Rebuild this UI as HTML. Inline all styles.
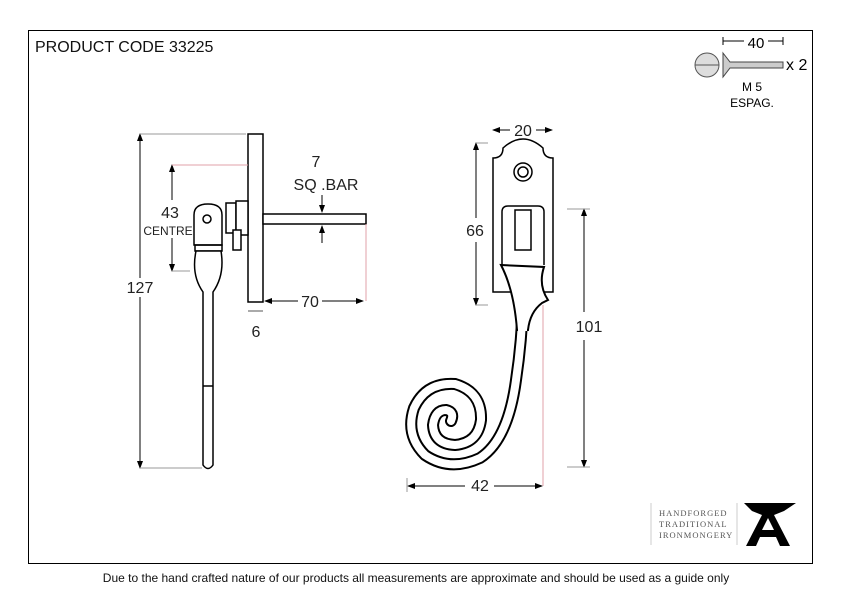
<!DOCTYPE html>
<html><head><meta charset="utf-8"><style>
html,body{margin:0;padding:0;background:#fff;}
svg{display:block;font-family:"Liberation Sans",sans-serif;}
</style></head><body>
<svg width="842" height="596" viewBox="0 0 842 596" xmlns="http://www.w3.org/2000/svg">
<defs>
<marker id="a" markerWidth="8" markerHeight="6" refX="7" refY="3" orient="auto-start-reverse" markerUnits="userSpaceOnUse"><path d="M0,0 L8,3 L0,6z" fill="#000"/></marker>
</defs>
<rect x="28.5" y="30.5" width="784" height="533" fill="none" stroke="#000" stroke-width="1"/>
<text x="35" y="52" font-size="16" fill="#111">PRODUCT CODE 33225</text>

<!-- screw -->
<circle cx="707" cy="65" r="12" fill="#ddd" stroke="#555"/>
<line x1="695" y1="65" x2="719" y2="65" stroke="#555"/>
<path d="M723,53 L730,62 L783,62 L783,68 L730,68 L723,77Z" fill="#ccc" stroke="#444"/>
<line x1="723" y1="41" x2="783" y2="41" stroke="#000"/>
<line x1="723" y1="37" x2="723" y2="45" stroke="#000"/><line x1="783" y1="37" x2="783" y2="45" stroke="#000"/>
<rect x="744" y="34" width="24" height="14" fill="#fff"/>
<text x="756" y="48" font-size="15" text-anchor="middle">40</text>
<text x="786" y="70" font-size="16">x 2</text>
<text x="752" y="91" font-size="12" text-anchor="middle">M 5</text>
<text x="752" y="107" font-size="12" text-anchor="middle">ESPAG.</text>

<g stroke="#000" fill="none" stroke-width="1.5">
<!-- left view -->
<rect x="248" y="134" width="15" height="168" fill="#fff"/>
<rect x="263" y="214" width="103" height="10" fill="#fff"/>
<rect x="226" y="203" width="10" height="30" fill="#fff"/>
<rect x="236" y="201" width="12" height="34" fill="#fff"/>
<rect x="233" y="230" width="8" height="20" fill="#fff"/>
<path d="M194,245 L194,215 Q194,204 208,204 Q222,204 222,215 L222,245Z" fill="#fff"/>
<circle cx="207" cy="219" r="4"/>
<rect x="195" y="245" width="27" height="6"/>
<path d="M196,251 Q191,275 203,292 L203,465 Q208,472 213,465 L213,292 Q225,275 221,251Z" fill="#fff"/>
<line x1="203" y1="386" x2="213" y2="386"/>
<!-- right view -->
<path d="M493,292 L493,158 Q503,158 503,148 Q513,139 523,139 Q533,139 543,148 Q543,158 553,158 L553,292Z" fill="#fff"/>
<circle cx="523" cy="172" r="9"/><circle cx="523" cy="172" r="5"/>
<path d="M502,265 L502,212 Q502,206 508,206 L538,206 Q544,206 544,212 L544,265" />
<rect x="515" y="210" width="16" height="40"/>
</g>
<!-- spiral ribbon -->
<path d="M523,300 Q522,340 516,380 Q508,440 480,458 Q450,472 425,455 Q405,435 414,408 Q426,382 455,384 Q482,392 481,420 Q478,443 455,445 Q434,444 433,425 Q435,410 446,410 Q455,412 451,421" fill="none" stroke="#000" stroke-width="12" stroke-linecap="round"/>
<path d="M523,300 Q522,340 516,380 Q508,440 480,458 Q450,472 425,455 Q405,435 414,408 Q426,382 455,384 Q482,392 481,420 Q478,443 455,445 Q434,444 433,425 Q435,410 446,410 Q455,412 451,421" fill="none" stroke="#fff" stroke-width="8" stroke-linecap="round"/>
<path d="M501,265 L544,267 Q538,285 548,300 L542,303 Q530,312 528,330 L517,330 Q514,290 501,265Z" fill="#fff" stroke="#000" stroke-width="2"/>
<path d="M518,329 L527,329" stroke="#fff" stroke-width="4"/>

<!-- dimension lines -->
<g stroke="#000" stroke-width="1">
<line x1="140" y1="134" x2="140" y2="278" marker-start="url(#a)"/>
<line x1="140" y1="297" x2="140" y2="468" marker-end="url(#a)"/>
<line x1="140" y1="134" x2="246" y2="134" stroke="#999"/>
<line x1="140" y1="468" x2="202" y2="468" stroke="#999"/>
<line x1="172" y1="165" x2="172" y2="200" marker-start="url(#a)"/>
<line x1="172" y1="238" x2="172" y2="271" marker-end="url(#a)"/>
<line x1="172" y1="271" x2="190" y2="271" stroke="#999"/>
<line x1="265" y1="301" x2="298" y2="301" marker-start="url(#a)"/>
<line x1="322" y1="301" x2="363" y2="301" marker-end="url(#a)"/>
<line x1="248" y1="311" x2="263" y2="311" stroke="#555"/>
<line x1="322" y1="195" x2="322" y2="212" marker-end="url(#a)"/>
<line x1="322" y1="243" x2="322" y2="226" marker-end="url(#a)"/>
<line x1="493" y1="130" x2="510" y2="130" marker-start="url(#a)"/>
<line x1="536" y1="130" x2="552" y2="130" marker-end="url(#a)"/>
<line x1="476" y1="143" x2="476" y2="218" marker-start="url(#a)"/>
<line x1="476" y1="242" x2="476" y2="305" marker-end="url(#a)"/>
<line x1="476" y1="143" x2="488" y2="143" stroke="#999"/>
<line x1="476" y1="305" x2="488" y2="305" stroke="#999"/>
<line x1="584" y1="209" x2="584" y2="312" marker-start="url(#a)"/>
<line x1="584" y1="340" x2="584" y2="467" marker-end="url(#a)"/>
<line x1="567" y1="209" x2="590" y2="209" stroke="#999"/>
<line x1="567" y1="467" x2="590" y2="467" stroke="#999"/>
<line x1="408" y1="486" x2="465" y2="486" marker-start="url(#a)"/>
<line x1="494" y1="486" x2="542" y2="486" marker-end="url(#a)"/>
<line x1="407" y1="478" x2="407" y2="492" stroke="#999"/>
</g>
<g stroke="#e0a0a8" stroke-width="1">
<line x1="172" y1="165" x2="248" y2="165"/>
<line x1="366" y1="224" x2="366" y2="301"/>
<line x1="543" y1="305" x2="543" y2="486"/>
</g>
<g font-size="16" fill="#222" text-anchor="middle">
<text x="140" y="293">127</text>
<text x="170" y="218">43</text>
<text x="168" y="235" font-size="12">CENTRE</text>
<text x="310" y="307">70</text>
<text x="256" y="337">6</text>
<text x="316" y="167">7</text>
<text x="326" y="190">SQ .BAR</text>
<text x="523" y="136">20</text>
<text x="475" y="236">66</text>
<text x="589" y="332">101</text>
<text x="480" y="491">42</text>
</g>

<!-- logo -->
<line x1="651" y1="503" x2="651" y2="545" stroke="#ccc"/>
<line x1="737" y1="503" x2="737" y2="545" stroke="#ccc"/>
<g font-family="Liberation Serif,serif" font-size="8.5" fill="#555" letter-spacing="1">
<text x="659" y="516">HANDFORGED</text>
<text x="659" y="527">TRADITIONAL</text>
<text x="659" y="538">IRONMONGERY</text>
</g>
<path d="M744,503 L796,503 L784,511 L774,515 L790,546 L780,546 L776,537 L760,537 L756,546 L746,546 L762,515 L752,511Z M762,530 L774,530 L768,518Z" fill="#000" fill-rule="evenodd"/>

<text x="416" y="582" font-size="12" text-anchor="middle" fill="#111">Due to the hand crafted nature of our products all measurements are approximate and should be used as a guide only</text>
</svg>
</body></html>
